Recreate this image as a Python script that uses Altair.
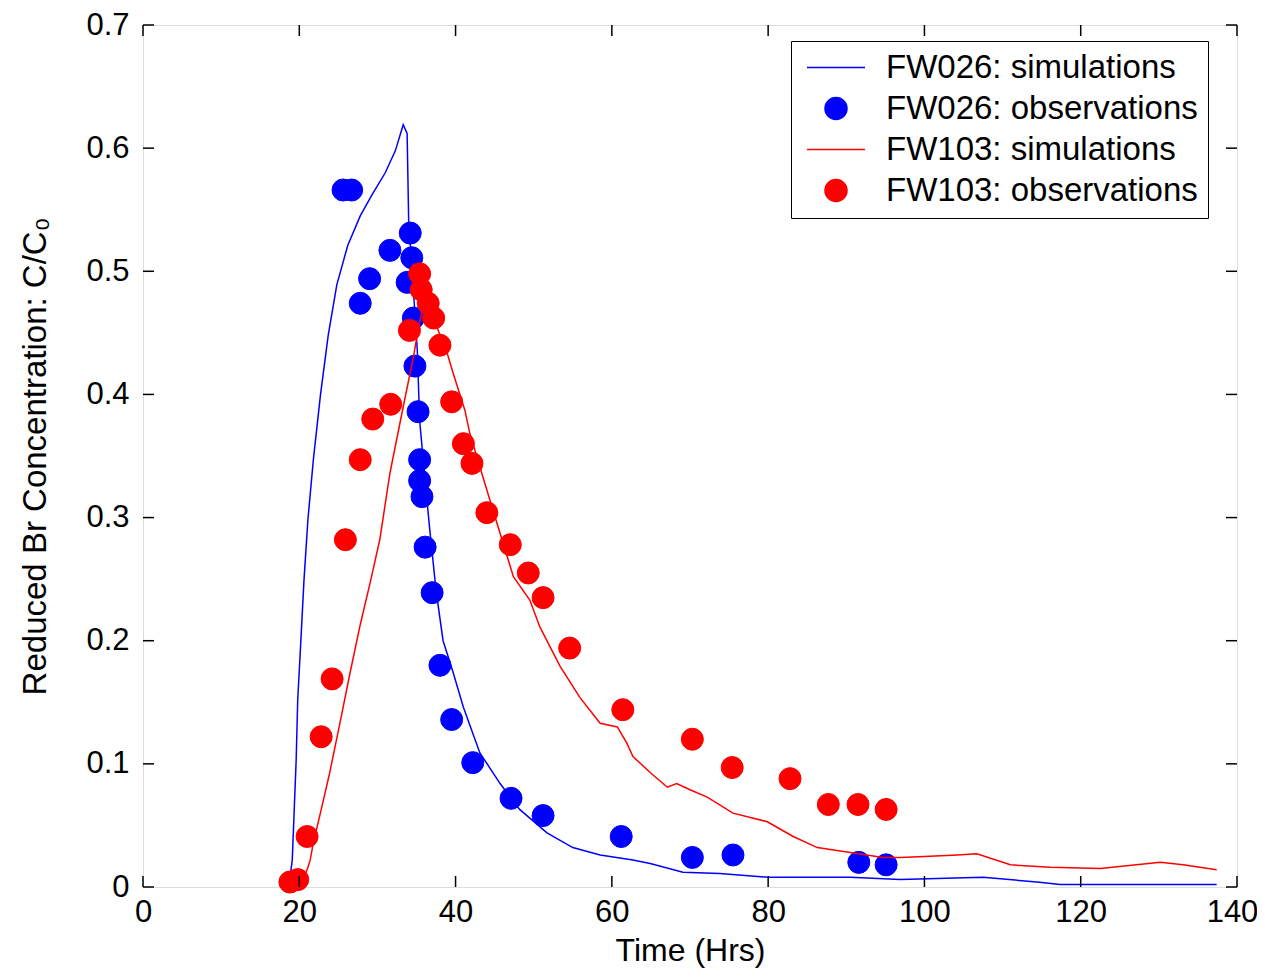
import altair as alt
import pandas as pd

FONT = "Liberation Sans"

labels = ["FW026: simulations", "FW026: observations",
          "FW103: simulations", "FW103: observations"]
colors = ["#0000ff", "#0000ff", "#ff0000", "#ff0000"]
shapes = ["M-2.64,0H2.64", "circle", "M-2.64,0H2.64", "circle"]

x_ticks = [0, 20, 40, 60, 80, 100, 120, 140]
y_ticks = [0, 0.1, 0.2, 0.3, 0.4, 0.5, 0.6, 0.7]

# FW026 simulation
b_sim_x = [18.6, 18.8, 19.1, 19.3, 19.6, 19.8, 20.2, 20.6, 21.1, 21.8, 22.7, 23.7,
           24.8, 26.2, 27.8, 29.3, 31.0, 32.3, 33.3, 33.8, 34.0, 34.6, 35.1, 35.4,
           36.1, 36.7, 37.5, 38.4, 39.7, 41.0, 43.1, 45.7, 48.2, 51.7, 55.0, 58.5,
           62.7, 64.9, 69.1, 73.8, 79.9, 90.5, 96.9, 107.5, 114.4, 117.4, 137.4]
b_sim_y = [0.000, 0.007, 0.022, 0.054, 0.103, 0.152, 0.200, 0.249, 0.298, 0.347,
           0.399, 0.448, 0.489, 0.521, 0.545, 0.562, 0.580, 0.598, 0.619, 0.612,
           0.540, 0.485, 0.436, 0.379, 0.330, 0.290, 0.241, 0.200, 0.174, 0.146,
           0.109, 0.084, 0.063, 0.044, 0.032, 0.026, 0.022, 0.019, 0.012, 0.011,
           0.008, 0.008, 0.006, 0.008, 0.004, 0.002, 0.002]

# FW026 observations
b_obs_x = [25.6, 26.7, 27.8, 29.0, 31.6, 34.2, 34.4, 33.8, 34.6, 34.8, 35.2, 35.4,
           35.4, 35.7, 36.1, 37.0, 38.0, 39.5, 42.2, 47.1, 51.2, 61.2, 70.3, 75.5,
           91.6, 95.1]
b_obs_y = [0.566, 0.566, 0.474, 0.494, 0.517, 0.531, 0.511, 0.491, 0.462, 0.423,
           0.386, 0.347, 0.330, 0.317, 0.276, 0.239, 0.180, 0.136, 0.101, 0.072,
           0.058, 0.041, 0.024, 0.026, 0.020, 0.018]

# FW103 simulation
r_sim_x = [19.5, 20.1, 20.5, 21.0, 21.4, 21.8, 22.7, 23.9, 25.2, 26.5, 27.8, 29.1,
           30.3, 31.6, 33.3, 34.6, 35.3, 36.0, 36.7, 37.6, 38.9, 39.7, 41.2, 41.8,
           43.5, 44.4, 45.7, 47.4, 49.5, 50.8, 53.4, 55.9, 58.5, 60.7, 61.9, 62.7,
           64.9, 67.1, 68.3, 70.0, 72.2, 75.5, 79.9, 83.2, 86.3, 90.5, 94.7, 96.9,
           100.7, 104.2, 106.7, 111.0, 116.1, 122.5, 130.2, 133.1, 137.4]
r_sim_y = [0.000, 0.002, 0.007, 0.014, 0.022, 0.036, 0.060, 0.093, 0.133, 0.174,
           0.213, 0.248, 0.282, 0.336, 0.390, 0.430, 0.456, 0.475, 0.468, 0.455,
           0.434, 0.417, 0.387, 0.369, 0.333, 0.314, 0.287, 0.252, 0.233, 0.211,
           0.179, 0.154, 0.133, 0.130, 0.117, 0.106, 0.093, 0.081, 0.084, 0.079,
           0.073, 0.060, 0.053, 0.041, 0.032, 0.028, 0.024, 0.024, 0.025, 0.026,
           0.027, 0.018, 0.016, 0.015, 0.020, 0.018, 0.014]

# FW103 observations
r_obs_x = [18.8, 19.8, 21.0, 22.8, 24.2, 25.9, 27.8, 29.4, 31.7, 34.1, 35.4, 35.6,
           36.5, 37.2, 38.0, 39.5, 41.0, 42.1, 44.0, 47.0, 49.3, 51.2, 54.6, 61.4,
           70.3, 75.4, 82.8, 87.7, 91.5, 95.1]
r_obs_y = [0.004, 0.006, 0.041, 0.122, 0.169, 0.282, 0.347, 0.380, 0.392, 0.452,
           0.498, 0.485, 0.474, 0.462, 0.440, 0.394, 0.360, 0.344, 0.304, 0.278,
           0.255, 0.235, 0.194, 0.144, 0.120, 0.097, 0.088, 0.067, 0.067, 0.063]

W, H = 1094, 862
TICK = 11


def frame(xs, ys, label):
    return pd.DataFrame({"x": xs, "y": ys, "series": label, "i": list(range(len(xs)))})


xscale = alt.Scale(domain=[0, 140], nice=False, zero=False)
yscale = alt.Scale(domain=[0, 0.7], nice=False, zero=False)

xaxis = alt.Axis(values=x_ticks, title="Time (Hrs)", grid=False, domain=False,
                 ticks=False, tickSize=0, labelPadding=10, labelFontSize=31,
                 titleFontSize=32, titleFontWeight="normal", labelFont=FONT,
                 titleFont=FONT, labelColor="#000", titleColor="#000",
                 titlePadding=8, labelFlush=False, labelOverlap=False,
                 labelOffset={"condition": {"test": "datum.value == 140", "value": -5},
                              "value": 0},
                 labelExpr="format(datum.value, 'd')")
yaxis = alt.Axis(values=y_ticks, title="Reduced Br Concentration: C/C\u2080",
                 grid=False, domain=False, ticks=False, tickSize=0,
                 labelPadding=14, labelFontSize=31, titleFontSize=33,
                 titleFontWeight="normal", labelFont=FONT, titleFont=FONT,
                 labelColor="#000", titleColor="#000", titlePadding=33,
                 labelFlush=False, labelOverlap=False,
                 labelExpr="datum.value == 0 ? '0' : format(datum.value, '.1f')")

legend = alt.Legend(
    title=None, orient="none", legendX=648, legendY=16,
    labelFont=FONT, labelFontSize=33, labelColor="#000", labelLimit=0,
    symbolSize=484, symbolStrokeWidth=1.5, strokeColor="#000",
    fillColor="white", padding=10, rowPadding=7,
    symbolOffset=18.5, labelOffset=33.5, symbolOpacity=1,
)
cscale = alt.Scale(domain=labels, range=colors)
stroke = alt.Stroke("series:N", scale=cscale, legend=legend)
fill = alt.Fill("series:N", scale=cscale, legend=legend)
shape = alt.Shape("series:N", scale=alt.Scale(domain=labels, range=shapes), legend=legend)

X = alt.X("x:Q", scale=xscale, axis=xaxis)
Y = alt.Y("y:Q", scale=yscale, axis=yaxis)


def line_layer(df):
    return alt.Chart(df).mark_line(strokeWidth=1.5).encode(x=X, y=Y, stroke=stroke, order="i:Q")


def point_layer(df):
    return alt.Chart(df).mark_point(filled=False, size=484, opacity=1,
                                    strokeWidth=1).encode(x=X, y=Y, stroke=stroke,
                                                          fill=fill, shape=shape)


xt = pd.DataFrame({"x": x_ticks})
yt = pd.DataFrame({"y": y_ticks})
tick_style = dict(color="black", strokeWidth=1.5)
ticks = [
    alt.Chart(xt).mark_rule(**tick_style).encode(x=X, y=alt.value(H), y2=alt.value(H - TICK)),
    alt.Chart(xt).mark_rule(**tick_style).encode(x=X, y=alt.value(0), y2=alt.value(TICK)),
    alt.Chart(yt).mark_rule(**tick_style).encode(y=Y, x=alt.value(0), x2=alt.value(TICK)),
    alt.Chart(yt).mark_rule(**tick_style).encode(y=Y, x=alt.value(W), x2=alt.value(W - TICK)),
]

chart = alt.layer(
    line_layer(frame(b_sim_x, b_sim_y, labels[0])),
    point_layer(frame(b_obs_x, b_obs_y, labels[1])),
    line_layer(frame(r_sim_x, r_sim_y, labels[2])),
    point_layer(frame(r_obs_x, r_obs_y, labels[3])),
    *ticks,
).properties(
    width=W, height=H,
    padding={"left": 135, "top": 17, "right": 20, "bottom": 82},
    autosize=alt.AutoSizeParams(type="none"),
).configure_view(
    stroke="black", strokeWidth=1.5
).configure_legend(
    strokeWidth=2
).configure(background="white")

chart.save("out.html", embed_options={"renderer": "svg", "actions": False})
